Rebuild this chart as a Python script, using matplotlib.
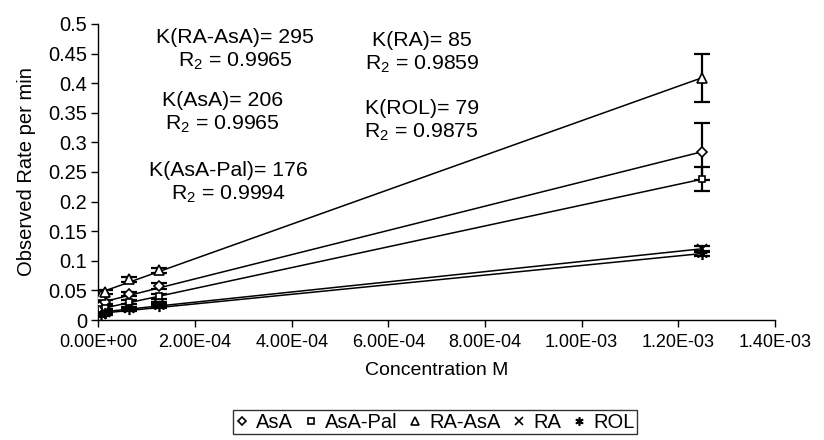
import numpy as np
import matplotlib
matplotlib.use("Agg")
import matplotlib.pyplot as plt
from matplotlib.ticker import FuncFormatter, MultipleLocator

plt.rcParams['font.family'] = ['Liberation Sans', 'DejaVu Sans']
plt.rcParams['mathtext.default'] = 'regular'

# concentrations (M)
conc = [6.25e-6, 1.25e-5, 6.25e-5, 1.25e-4, 1.25e-3]

# observed rates per min
asa = [0.026, 0.030, 0.044, 0.057, 0.284]
asa_pal = [0.018, 0.021, 0.030, 0.040, 0.238]
ra_asa = [0.042, 0.047, 0.069, 0.084, 0.409]
ra = [0.010, 0.013, 0.020, 0.027, 0.120]
rol = [0.008, 0.011, 0.018, 0.024, 0.112]

# error bars
asa_err = [0.003, 0.003, 0.004, 0.005, 0.048]
asa_pal_err = [0.002, 0.002, 0.003, 0.004, 0.020]
ra_asa_err = [0.003, 0.003, 0.004, 0.004, 0.040]
ra_err = [0.002, 0.002, 0.002, 0.003, 0.005]
rol_err = [0.002, 0.002, 0.002, 0.003, 0.004]

series = [
    ("AsA", asa, asa_err, "D", 5),
    ("AsA-Pal", asa_pal, asa_pal_err, "s", 5),
    ("RA-AsA", ra_asa, ra_asa_err, "^", 7),
    ("RA", ra, ra_err, "x", 7),
    ("ROL", rol, rol_err, (6, 2, 0), 8),
]

labels = [
    ("K(RA-AsA)= 295\nR$_2$ = 0.9965", 2.83e-4, 0.456),
    ("K(AsA)= 206\nR$_2$ = 0.9965", 2.56e-4, 0.350),
    ("K(AsA-Pal)= 176\nR$_2$ = 0.9994", 2.69e-4, 0.231),
    ("K(RA)= 85\nR$_2$ = 0.9859", 6.69e-4, 0.451),
    ("K(ROL)= 79\nR$_2$ = 0.9875", 6.69e-4, 0.336),
]

fig = plt.figure(figsize=(8.24, 4.40), dpi=100)
ax = fig.add_axes([0.1195, 0.2727, 0.8210, 0.6728])

x = np.array(conc)
handles = []
for name, y, err, marker, ms in series:
    # linear trendline
    k, b = np.polyfit(x, y, 1)
    xs = np.array([x.min(), x.max()])
    ax.plot(xs, k * xs + b, color='black', lw=1.1, zorder=2)
    ax.errorbar(x, y, yerr=err, fmt='none', ecolor='black', elinewidth=1.6,
                capsize=6, capthick=1.6, zorder=3)
    h, = ax.plot(x, y, linestyle='none', marker=marker, markersize=ms,
                 markerfacecolor='white', markeredgecolor='black',
                 markeredgewidth=1.2, color='black', zorder=4, label=name)
    handles.append(h)

for txt, tx, ty in labels:
    ax.text(tx, ty, txt, ha='center', va='center', fontsize=15.3,
            linespacing=1.22)

ax.set_xlim(0, 1.4e-3)
ax.set_ylim(0, 0.5)
ax.xaxis.set_major_locator(MultipleLocator(2e-4))
ax.yaxis.set_major_locator(MultipleLocator(0.05))
ax.xaxis.set_major_formatter(FuncFormatter(lambda v, p: f"{v:.2E}"))
ax.yaxis.set_major_formatter(FuncFormatter(lambda v, p: f"{v:g}"))
ax.tick_params(axis='x', labelsize=13, direction='out', length=5, width=1, pad=5)
ax.tick_params(axis='y', labelsize=14.4, direction='out', length=5, width=1, pad=3)
ax.spines['top'].set_visible(False)
ax.spines['right'].set_visible(False)
ax.spines['left'].set_linewidth(1)
ax.spines['bottom'].set_linewidth(1)

ax.set_xlabel("Concentration M", fontsize=14, labelpad=8)
ax.set_ylabel("Observed Rate per min", fontsize=14.5, labelpad=9)

leg = fig.legend(handles=handles, loc='center', bbox_to_anchor=(0.528, 0.04),
                 ncol=5, fontsize=14.5, frameon=True, fancybox=False,
                 handlelength=0.6, handletextpad=0.4, columnspacing=0.6,
                 borderpad=0.12, borderaxespad=0, markerscale=0.75)
leg.get_frame().set_edgecolor('black')
leg.get_frame().set_linewidth(1)

fig.savefig("out.png", dpi=100)
